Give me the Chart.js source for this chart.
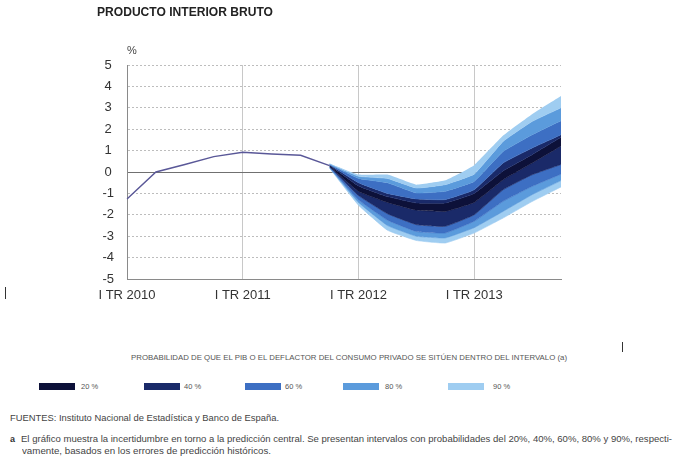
<!DOCTYPE html>
<html>
<head>
<meta charset="utf-8">
<script src="https://cdn.jsdelivr.net/npm/chart.js@4"></script>
<style>
  html, body { margin: 0; padding: 0; background: #fff; }
  body { width: 680px; height: 472px; position: relative; overflow: hidden;
         font-family: "Liberation Sans", Arial, sans-serif; color: #333; }
  #chart { position: absolute; left: 0; top: 0; }
  .t { position: absolute; white-space: nowrap; transform-origin: left top; }
  .box { position: absolute; height: 7px; width: 36px; }
  .mark { position: absolute; width: 1px; background: #333; }
</style>
</head>
<body>
<canvas id="chart" width="680" height="320"></canvas>

<div class="t fit" data-w="176" style="left:97px; top:6px; font-size:12px; line-height:12px; font-weight:bold; color:#222;">PRODUCTO INTERIOR BRUTO</div>
<div class="t" style="left:127px; top:45px; font-size:11px; line-height:11px; color:#444;">%</div>

<div class="t fit" data-w="436" style="left:131px; top:354px; font-size:8px; line-height:8px; color:#555;">PROBABILIDAD DE QUE EL PIB O EL DEFLACTOR DEL CONSUMO PRIVADO SE SITÚEN DENTRO DEL INTERVALO (a)</div>
<div id="legend"></div>

<div class="t fit" data-w="269" style="left:10px; top:414px; font-size:9px; line-height:9px; color:#444;">FUENTES: Instituto Nacional de Estadística y Banco de España.</div>
<div class="t" style="left:10px; top:435px; font-size:9px; line-height:9px; font-weight:bold; color:#333;">a</div>
<div class="t fit" data-w="651" style="left:21px; top:435px; font-size:9px; line-height:9px; color:#444;">El gráfico muestra la incertidumbre en torno a la predicción central. Se presentan intervalos con probabilidades del 20%, 40%, 60%, 80% y 90%, respecti-</div>
<div class="t fit" data-w="249" style="left:22px; top:447px; font-size:9px; line-height:9px; color:#444;">vamente, basados en los errores de predicción históricos.</div>

<div class="mark" style="left:5px; top:287px; height:12px;"></div>
<div class="mark" style="left:622px; top:342px; height:10px;"></div>

<script>
// quarters, 2010 Q1 .. 2013 Q4
const quarters = [
  'I TR 2010', 'II TR 2010', 'III TR 2010', 'IV TR 2010',
  'I TR 2011', 'II TR 2011', 'III TR 2011', 'IV TR 2011',
  'I TR 2012', 'II TR 2012', 'III TR 2012', 'IV TR 2012',
  'I TR 2013', 'II TR 2013', 'III TR 2013', 'IV TR 2013'
];

// observed GDP growth (%)
const observed = [-1.26, 0.0, 0.35, 0.72, 0.92, 0.84, 0.78, 0.3,
                  null, null, null, null, null, null, null, null];

// fan chart boundaries (%), upper and lower edge of each interval
const N = null;
const up90 = [N, N, N, N, N, N, N, 0.40, -0.12, -0.12, -0.59, -0.39,  0.32, 1.70, 2.70, 3.55];
const up80 = [N, N, N, N, N, N, N, 0.38, -0.20, -0.30, -0.75, -0.59, -0.10, 1.43, 2.36, 3.00];
const up60 = [N, N, N, N, N, N, N, 0.36, -0.30, -0.50, -0.98, -0.90, -0.44, 0.96, 1.74, 2.40];
const up40 = [N, N, N, N, N, N, N, 0.34, -0.50, -1.00, -1.26, -1.29, -0.83, 0.42, 1.12, 1.74];
const up20 = [N, N, N, N, N, N, N, 0.32, -0.65, -1.15, -1.45, -1.45, -1.00, 0.05, 0.81, 1.62];
const lo20 = [N, N, N, N, N, N, N, 0.27, -0.90, -1.42, -1.78, -1.84, -1.42, -0.36, 0.42, 1.22];
const lo40 = [N, N, N, N, N, N, N, 0.25, -1.10, -1.95, -2.46, -2.54, -2.00, -0.83, -0.13, 0.35];
const lo60 = [N, N, N, N, N, N, N, 0.22, -1.30, -2.25, -2.78, -2.85, -2.30, -1.37, -0.67, -0.10];
const lo80 = [N, N, N, N, N, N, N, 0.20, -1.42, -2.50, -3.00, -3.08, -2.60, -1.84, -1.06, -0.40];
const lo90 = [N, N, N, N, N, N, N, 0.18, -1.55, -2.72, -3.20, -3.32, -2.85, -2.15, -1.38, -0.70];

const bandLabels = ['20 %', '40 %', '60 %', '80 %', '90 %'];
const bandColors = ['#0d1139', '#1a2a69', '#3d6fc3', '#5b9bdc', '#9fcdf1'];

const yTicks = [-5, -4, -3, -2, -1, 0, 1, 2, 3, 4, 5];

// legend (html)
const legendBoxX = [39, 144, 245, 343, 448];
const legendTextX = [81, 184, 285, 385, 493];
const legend = document.getElementById('legend');
bandLabels.forEach((lab, i) => {
  const b = document.createElement('div');
  b.className = 'box';
  b.style.left = legendBoxX[i] + 'px';
  b.style.top = '383px';
  b.style.background = bandColors[i];
  legend.appendChild(b);
  const t = document.createElement('div');
  t.className = 't';
  t.style.cssText = `left:${legendTextX[i]}px; top:383px; font-size:7.5px; line-height:7.5px; color:#555;`;
  t.textContent = lab;
  legend.appendChild(t);
});

// squeeze texts to the widths in the reference
document.querySelectorAll('.fit').forEach(el => {
  const w = el.getBoundingClientRect().width;
  el.style.transform = `scaleX(${el.dataset.w / w})`;
});

// ── band datasets: each fills up to the previous boundary ──
// a thin edge in the band colour hides the seams between fills
const band = (data, color) => ({
  data: data,
  fill: color ? '-1' : false,
  backgroundColor: color || 'transparent',
  borderColor: color || 'transparent',
  borderWidth: color ? 0.6 : 0,
  pointRadius: 0,
  tension: 0.1
});

const ctx = document.getElementById('chart').getContext('2d');
new Chart(ctx, {
  type: 'line',
  data: {
    labels: quarters,
    datasets: [
      {
        data: observed,
        borderColor: '#5a5898',
        borderWidth: 1.4,
        pointRadius: 0,
        fill: false,
        tension: 0
      },
      band(up90, null),
      band(up80, bandColors[4]),
      band(up60, bandColors[3]),
      band(up40, bandColors[2]),
      band(up20, bandColors[1]),
      band(lo20, bandColors[0]),
      band(lo40, bandColors[1]),
      band(lo60, bandColors[2]),
      band(lo80, bandColors[3]),
      band(lo90, bandColors[4])
    ]
  },
  options: {
    responsive: false,
    animation: false,
    layout: { padding: { left: 87, right: 119, top: 65, bottom: 11 } },
    plugins: {
      legend: { display: false },
      tooltip: { enabled: false }
    },
    scales: {
      x: {
        offset: false,
        afterFit: s => { s.height = 30; },
        ticks: {
          autoSkip: false,
          maxRotation: 0,
          padding: 9,
          color: '#333',
          font: { family: 'Liberation Sans', size: 13 },
          callback: (v, i) => (i % 4 === 0 ? quarters[i] : '')
        },
        grid: {
          drawTicks: false,
          color: c => (c.index % 4 === 0 ? '#c8c8c8' : 'rgba(0,0,0,0)')
        },
        border: { color: '#8a8a8a', width: 1 }
      },
      y: {
        min: -5,
        max: 5,
        afterFit: s => { s.width = 40; },
        afterBuildTicks: s => { s.ticks = yTicks.map(v => ({ value: v })); },
        ticks: {
          crossAlign: 'center',
          padding: 13,
          color: '#333',
          font: { family: 'Liberation Sans', size: 13 }
        },
        grid: {
          drawTicks: false,
          color: c => (c.tick && c.tick.value === 0 ? '#707070' : '#bdbdbd')
        },
        border: {
          color: '#8a8a8a',
          width: 1,
          dash: c => (c.type === 'tick' && c.tick.value !== 0 ? [2, 2] : [])
        }
      }
    }
  }
});
</script>
</body>
</html>
